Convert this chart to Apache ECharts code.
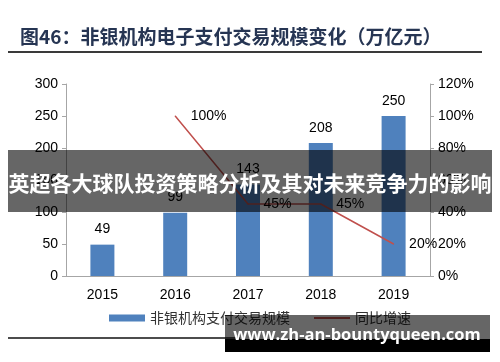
<!DOCTYPE html>
<html><head><meta charset="utf-8">
<script src="https://cdn.jsdelivr.net/npm/echarts@6/dist/echarts.min.js"></script>
<style>html,body{margin:0;padding:0;background:#fff}#c{width:500px;height:362px}</style>
</head><body><div id="c"></div>
<script>
const years = ['2015','2016','2017','2018','2019'];
const scaleVals = [49, 99, 143, 208, 250];
const growthVals = [null, 100, 45, 45, 20];
const leftTicks = [0, 50, 100, 150, 200, 250, 300];
const rightTicks = [0, 20, 40, 60, 80, 100, 120];
const titleText = '图46：非银机构电子支付交易规模变化（万亿元）';
const bannerText = '英超各大球队投资策略分析及其对未来竞争力的影响';
const markText = 'www.zh-an-bountyqueen.com';

const chart = echarts.init(document.getElementById('c'), null, {renderer:'canvas'});
const axisFont = {fontFamily:'Arial, Liberation Sans, sans-serif', fontSize:14, color:'#000'};
chart.setOption({
  animation:false,
  grid:{left:66, right:70, top:84, bottom:86},
  legend:{
    left:104, top:306, itemWidth:36, itemGap:24, itemHeight:7,
    textStyle:{fontFamily:'Noto Sans CJK SC', fontSize:14, color:'#333'},
    data:[{name:'非银机构支付交易规模', icon:'rect'},
          {name:'同比增速', icon:'path://M0,0 L36,0 L36,2 L0,2 Z', itemStyle:{color:'#c0504d'}}]
  },
  xAxis:{type:'category', data:years,
    axisLine:{lineStyle:{color:'#a6a6a6'}}, axisTick:{show:false},
    axisLabel:Object.assign({margin:12}, axisFont)},
  yAxis:[
    {type:'value', min:0, max:300, interval:50, splitLine:{show:false},
     axisLine:{show:true, lineStyle:{color:'#a6a6a6'}},
     axisTick:{show:true, length:4, lineStyle:{color:'#a6a6a6'}},
     axisLabel:Object.assign({margin:8}, axisFont)},
    {type:'value', min:0, max:120, interval:20, splitLine:{show:false},
     axisLine:{show:true, lineStyle:{color:'#a6a6a6'}},
     axisTick:{show:true, length:4, lineStyle:{color:'#a6a6a6'}},
     axisLabel:Object.assign({margin:8, formatter:'{value}%'}, axisFont)}
  ],
  series:[
    {name:'非银机构支付交易规模', type:'bar', data:scaleVals, barWidth:24,
     itemStyle:{color:'#4f81bd'},
     label:{show:true, position:'top', distance:8, fontFamily:'Arial, Liberation Sans, sans-serif', fontSize:14, color:'#000'}},
    {name:'同比增速', type:'line', yAxisIndex:1, data:growthVals,
     symbol:'circle', symbolSize:1, showSymbol:true,
     lineStyle:{color:'#c0504d', width:1.5}, itemStyle:{color:'#c0504d'},
     label:{show:true, position:'right', distance:15, formatter:'{c}%', fontFamily:'Arial, Liberation Sans, sans-serif', fontSize:14, color:'#000'}}
  ],
  graphic:[
    {type:'text', left:20, top:27, z:50, style:{text:titleText, font:'bold 19px "Noto Sans CJK SC"', fill:'#263553'}},
    {type:'line', z:50, shape:{x1:8, y1:52, x2:482, y2:52}, style:{stroke:'#3a3a3a', lineWidth:2}},
    {type:'line', z:50, shape:{x1:8, y1:338, x2:240, y2:338}, style:{stroke:'#111', lineWidth:1.5}},
    {type:'rect', z:100, shape:{x:8, y:150, width:484, height:62}, style:{fill:'rgba(0,0,0,0.6)'}},
    {type:'text', z:101, x:250, y:183, style:{text:bannerText, font:'bold 21px "Noto Sans CJK SC"', fill:'#fff', align:'center', verticalAlign:'middle'}},
    {type:'rect', z:100, shape:{x:225, y:315, width:265, height:24}, style:{fill:'rgba(0,0,0,0.6)'}},
    {type:'rect', z:100, shape:{x:225, y:339, width:265, height:13}, style:{fill:'#000'}},
    {type:'text', z:101, x:357, y:335, style:{text:markText, font:'bold 16.5px "Open Sans", "DejaVu Sans", sans-serif', fill:'#fff', align:'center', verticalAlign:'middle'}}
  ]
});
</script></body></html>
